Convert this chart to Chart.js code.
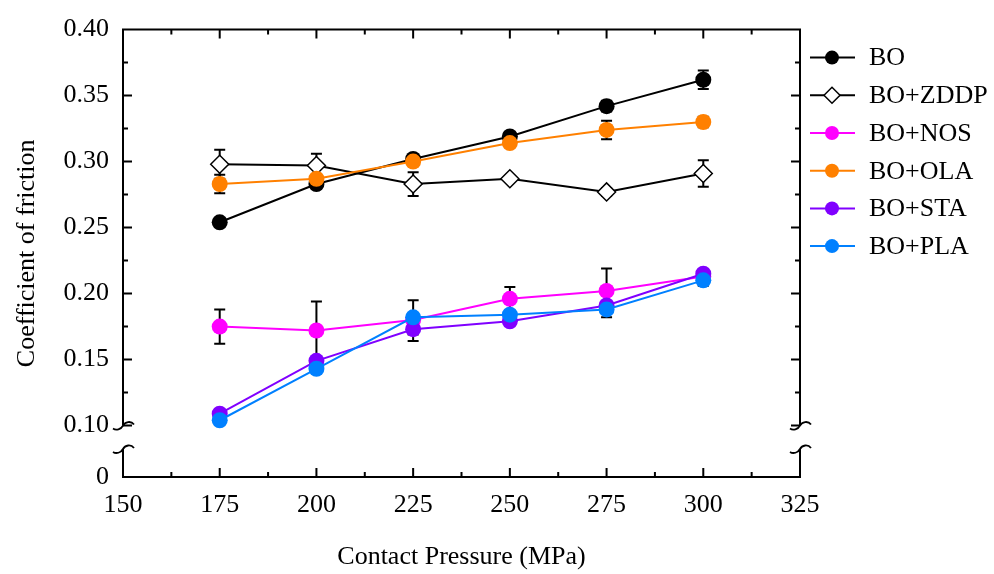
<!DOCTYPE html>
<html>
<head>
<meta charset="utf-8">
<script src="https://cdn.jsdelivr.net/npm/chart.js@4/dist/chart.umd.min.js"></script>
<style>
  html, body { margin: 0; padding: 0; background: #fff; }
  #wrap { width: 994px; height: 574px; }
</style>
</head>
<body>
<div id="wrap"><canvas id="friction" width="994" height="574"></canvas></div>
<script>
  // Contact pressure (MPa) at which each oil blend was tested.
  var PRESSURE = [175, 200, 225, 250, 275, 300];

  // Coefficient of friction, mean and +/- error.
  var BO        = [0.254, 0.283, 0.302, 0.319, 0.342, 0.362];
  var BO_ERR    = [0.003, 0.003, 0.003, 0.003, 0.004, 0.007];
  var ZDDP      = [0.298, 0.297, 0.283, 0.287, 0.277, 0.291];
  var ZDDP_ERR  = [0.011, 0.009, 0.009, 0.002, 0.003, 0.010];
  var NOS       = [0.175, 0.172, 0.180, 0.196, 0.202, 0.213];
  var NOS_ERR   = [0.013, 0.022, 0.003, 0.009, 0.017, 0.003];
  var OLA       = [0.283, 0.287, 0.300, 0.314, 0.324, 0.330];
  var OLA_ERR   = [0.007, 0.002, 0.003, 0.002, 0.007, 0.004];
  var STA       = [0.109, 0.149, 0.173, 0.179, 0.191, 0.215];
  var STA_ERR   = [0.002, 0.002, 0.009, 0.002, 0.003, 0.003];
  var PLA       = [0.104, 0.143, 0.182, 0.184, 0.188, 0.210];
  var PLA_ERR   = [0.002, 0.002, 0.013, 0.002, 0.006, 0.004];

  var NAMES = ["BO", "BO+ZDDP", "BO+NOS", "BO+OLA", "BO+STA", "BO+PLA"];

  // Axis ticks. The y axis is broken between 0 and 0.10; the "0" label sits at
  // Y_ZERO_POS, which is where 0 falls once the gap is squeezed out.
  var X_TICKS = [150, 175, 200, 225, 250, 275, 300, 325];
  var Y_TICKS = [0.10, 0.15, 0.20, 0.25, 0.30, 0.35, 0.40];
  var Y_ZERO_POS = 0.061;

  var SERIF = "'Liberation Serif', 'Times New Roman', serif";
  var INK = "#000000";

  function points(ys) {
    return ys.map(function (y, i) { return { x: PRESSURE[i], y: y }; });
  }

  function series(i, ys, errs, color, style, fill, order) {
    return {
      label: NAMES[i],
      data: points(ys),
      errorBars: errs,
      borderColor: color,
      borderWidth: 2,
      backgroundColor: fill,
      pointStyle: style,
      pointRadius: style === "rectRot" ? 9 : 8,
      pointBorderColor: style === "rectRot" ? INK : color,
      pointBorderWidth: style === "rectRot" ? 1.5 : 0,
      pointBackgroundColor: fill,
      tension: 0,
      order: order
    };
  }

  // Vertical error bars with caps, drawn under the markers.
  var errorBarPlugin = {
    id: "errorBars",
    beforeDatasetsDraw: function (chart) {
      var xs = chart.scales.x, ys = chart.scales.y, ctx = chart.ctx;
      ctx.save();
      ctx.strokeStyle = INK;
      ctx.lineWidth = 2;
      chart.data.datasets.forEach(function (ds) {
        (ds.errorBars || []).forEach(function (e, i) {
          if (!e) return;
          var p = ds.data[i];
          var px = xs.getPixelForValue(p.x);
          var top = ys.getPixelForValue(p.y + e);
          var bot = ys.getPixelForValue(p.y - e);
          ctx.beginPath();
          ctx.moveTo(px, top); ctx.lineTo(px, bot);
          ctx.moveTo(px - 5.5, top); ctx.lineTo(px + 5.5, top);
          ctx.moveTo(px - 5.5, bot); ctx.lineTo(px + 5.5, bot);
          ctx.stroke();
        });
      });
      ctx.restore();
    }
  };

  function breakMark(ctx, x, y) {
    ctx.beginPath();
    ctx.moveTo(x - 10, y + 3);
    ctx.bezierCurveTo(x - 7, y + 5, x - 2, y + 4, x, y);
    ctx.bezierCurveTo(x + 2, y - 4, x + 8, y - 5, x + 11, y - 1);
    ctx.stroke();
  }

  // Box frame with inward ticks on all four sides and the axis-break marks.
  var framePlugin = {
    id: "frame",
    afterDatasetsDraw: function (chart) {
      var a = chart.chartArea, xs = chart.scales.x, ys = chart.scales.y;
      var ctx = chart.ctx;
      var yTen = ys.getPixelForValue(0.10);
      var yLow = Math.round((yTen + a.bottom) / 2) - 2;
      ctx.save();
      ctx.strokeStyle = INK;
      ctx.lineWidth = 2;
      ctx.lineCap = "butt";
      ctx.beginPath();
      ctx.moveTo(a.left, a.top); ctx.lineTo(a.right, a.top);
      ctx.moveTo(a.left, a.bottom); ctx.lineTo(a.right, a.bottom);
      [a.left, a.right].forEach(function (x) {
        ctx.moveTo(x, a.top - 1); ctx.lineTo(x, yTen);
        ctx.moveTo(x, yLow); ctx.lineTo(x, a.bottom + 1);
      });
      var i, v, px, len;
      for (i = 0; i <= 14; i++) {
        v = 150 + i * 12.5;
        px = xs.getPixelForValue(v);
        len = i % 2 === 0 ? 9 : 5;
        ctx.moveTo(px, a.bottom); ctx.lineTo(px, a.bottom - len);
        ctx.moveTo(px, a.top); ctx.lineTo(px, a.top + len);
      }
      for (i = 0; i <= 12; i++) {
        v = 0.10 + i * 0.025;
        px = ys.getPixelForValue(v);
        len = i % 2 === 0 ? 9 : 5;
        ctx.moveTo(a.left, px); ctx.lineTo(a.left + len, px);
        ctx.moveTo(a.right, px); ctx.lineTo(a.right - len, px);
      }
      ctx.stroke();
      ctx.lineWidth = 1.8;
      [a.left, a.right].forEach(function (x) {
        breakMark(ctx, x, yTen);
        breakMark(ctx, x, yLow);
      });
      ctx.restore();
    }
  };

  // Legend at the right: short line with the series marker, then the name.
  var legendPlugin = {
    id: "sideLegend",
    afterDraw: function (chart) {
      var a = chart.chartArea, ctx = chart.ctx;
      var x0 = a.right + 10, x1 = a.right + 55, xm = a.right + 32;
      ctx.save();
      ctx.font = "26px " + SERIF;
      ctx.textBaseline = "middle";
      ctx.textAlign = "left";
      chart.data.datasets.forEach(function (ds, i) {
        var y = a.top + 28 + i * 37.7;
        ctx.strokeStyle = ds.borderColor;
        ctx.lineWidth = 2;
        ctx.beginPath();
        ctx.moveTo(x0, y); ctx.lineTo(x1, y);
        ctx.stroke();
        ctx.fillStyle = ds.pointBackgroundColor;
        ctx.strokeStyle = ds.pointBorderColor;
        ctx.lineWidth = ds.pointBorderWidth;
        Chart.helpers.drawPoint(ctx, {
          pointStyle: ds.pointStyle,
          radius: ds.pointStyle === "rectRot" ? 8 : 7,
          rotation: 0,
          borderWidth: ds.pointBorderWidth
        }, xm, y);
        ctx.fillStyle = INK;
        ctx.fillText(ds.label, a.right + 69, y + 1);
      });
      ctx.restore();
    }
  };

  new Chart(document.getElementById("friction"), {
    type: "line",
    data: {
      datasets: [
        series(0, BO, BO_ERR, "#000000", "circle", "#000000", 5),
        series(1, ZDDP, ZDDP_ERR, "#000000", "rectRot", "#ffffff", 4),
        series(2, NOS, NOS_ERR, "#ff00ff", "circle", "#ff00ff", 2),
        series(3, OLA, OLA_ERR, "#ff8000", "circle", "#ff8000", 3),
        series(4, STA, STA_ERR, "#8000ff", "circle", "#8000ff", 1),
        series(5, PLA, PLA_ERR, "#0080ff", "circle", "#0080ff", 0)
      ]
    },
    options: {
      responsive: false,
      animation: false,
      devicePixelRatio: 1,
      layout: { padding: { top: 25, right: 194, left: 0, bottom: 0 } },
      plugins: { legend: { display: false }, tooltip: { enabled: false } },
      scales: {
        x: {
          type: "linear",
          min: 150,
          max: 325,
          afterBuildTicks: function (s) {
            s.ticks = X_TICKS.map(function (v) { return { value: v }; });
          },
          afterFit: function (s) { s.height = 97; },
          grid: { display: false, drawTicks: false },
          border: { display: false },
          ticks: {
            color: INK,
            padding: 13,
            maxRotation: 0,
            font: { family: SERIF, size: 26 }
          },
          title: {
            display: true,
            text: "Contact Pressure (MPa)",
            color: INK,
            font: { family: SERIF, size: 26, lineHeight: 1 },
            padding: { top: 0, bottom: 4 }
          }
        },
        y: {
          type: "linear",
          min: Y_ZERO_POS,
          max: 0.40,
          afterBuildTicks: function (s) {
            s.ticks = [{ value: Y_ZERO_POS }].concat(
              Y_TICKS.map(function (v) { return { value: v }; }));
          },
          afterFit: function (s) { s.width = 123; },
          grid: { display: false, drawTicks: false },
          border: { display: false },
          ticks: {
            color: INK,
            padding: 14,
            font: { family: SERIF, size: 26 },
            callback: function (v) {
              return v === Y_ZERO_POS ? "0" : Number(v).toFixed(2);
            }
          },
          title: {
            display: true,
            text: "Coefficient of friction",
            color: INK,
            font: { family: SERIF, size: 26, lineHeight: 1 },
            padding: { top: 14, bottom: 0 }
          }
        }
      }
    },
    plugins: [errorBarPlugin, framePlugin, legendPlugin]
  });
</script>
</body>
</html>
